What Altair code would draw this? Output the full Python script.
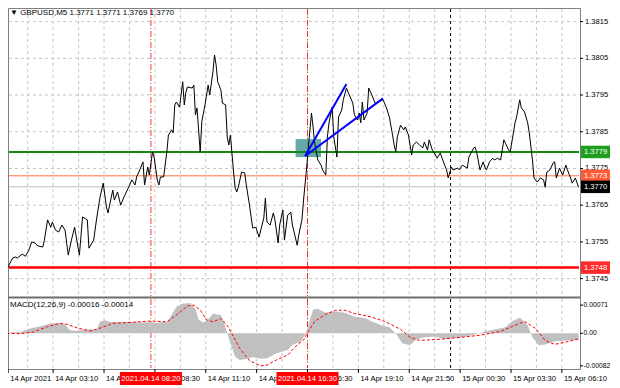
import altair as alt
import pandas as pd

# ---------------- data ----------------
bars = [0,1,3,6,8,9,12,14,16,18,20,22,25,26,28,30,31,33,35,37,39,41,43,45,48,50,53,54,57,59,61,63,65,66,69,70,72,74,76,79,81,83,84,86,88,89,91,92,94,95,97,98,99,101,103,104,106,107,108,109,111,113,114,115,116,119,120,121,122,124,125,127,129,130,132,133,134,135,137,138,140,141,142,143,145,146,147,148,150,152,153,155,157,159,161,164,165,166,168,170,171,173,174,176,177,179,181,182,185,186,188,189,191,192,194,195,196,198,200,201,203,204,205,207,208,210,211,213,214,216,217,220,221,223,224,225,226,227,229,230,232,234,236,239,241,243,245,246,247,248,250,252,253,255,257,258,260,262,264,265,267,268,270,271,273,275,277,279,280,282,283,286,287,289,292,293,296,297,298,300,302,303,304,306,308,309,311,313,315,316,318,319,321,322,323,325,326,328,330,331,333,334,336,338,340,341,342,344,346,347,348,350,352,354,355,357,358,360,362]
prices = [1.37487,1.37492,1.37481,1.37506,1.37509,1.37506,1.37517,1.37511,1.37525,1.37550,1.37547,1.37539,1.37536,1.37555,1.37610,1.37590,1.37604,1.37582,1.37577,1.37596,1.37582,1.37514,1.37555,1.37590,1.37514,1.37618,1.37610,1.37533,1.37555,1.37618,1.37672,1.37710,1.37645,1.37629,1.37691,1.37664,1.37686,1.37650,1.37672,1.37699,1.37719,1.37705,1.37727,1.37746,1.37768,1.37705,1.37754,1.37732,1.37795,1.37781,1.37719,1.37705,1.37727,1.37727,1.37795,1.37841,1.37855,1.37847,1.37923,1.37931,1.37917,1.37986,1.37923,1.37958,1.37972,1.37969,1.37977,1.37896,1.37915,1.37795,1.37877,1.37923,1.37977,1.37950,1.38013,1.38059,1.38032,1.37986,1.37964,1.37928,1.37923,1.37836,1.37814,1.37841,1.37740,1.37697,1.37686,1.37699,1.37740,1.37738,1.37705,1.37650,1.37588,1.37590,1.37563,1.37615,1.37669,1.37604,1.37596,1.37629,1.37610,1.37547,1.37596,1.37637,1.37555,1.37623,1.37631,1.37596,1.37541,1.37569,1.37610,1.37664,1.37754,1.37806,1.37901,1.37863,1.37819,1.37773,1.37759,1.37746,1.37732,1.37836,1.37874,1.37917,1.37836,1.37781,1.37890,1.37909,1.37937,1.37969,1.37958,1.37928,1.37896,1.37882,1.37901,1.37874,1.37931,1.37882,1.37901,1.37969,1.37950,1.37928,1.37931,1.37937,1.37917,1.37890,1.37841,1.37814,1.37795,1.37836,1.37868,1.37855,1.37863,1.37841,1.37787,1.37814,1.37822,1.37814,1.37806,1.37822,1.37800,1.37828,1.37800,1.37795,1.37778,1.37792,1.37768,1.37746,1.37724,1.37754,1.37746,1.37751,1.37746,1.37759,1.37751,1.37781,1.37806,1.37808,1.37792,1.37746,1.37768,1.37754,1.37746,1.37768,1.37778,1.37773,1.37778,1.37773,1.37828,1.37819,1.37800,1.37795,1.37847,1.37874,1.37890,1.37937,1.37915,1.37904,1.37874,1.37847,1.37773,1.37724,1.37713,1.37724,1.37719,1.37699,1.37740,1.37746,1.37765,1.37768,1.37724,1.37751,1.37732,1.37759,1.37746,1.37724,1.37710,1.37724,1.37699]

hist_bars = [0,4,11,17,23,30,36,39,42,47,50,55,59,61,64,67,74,80,86,93,97,101,103,105,109,113,118,121,123,126,129,132,137,139,141,143,146,149,154,157,162,166,172,179,182,187,190,192,195,198,203,209,215,221,228,232,238,243,247,251,256,260,265,272,278,284,291,297,303,310,316,320,325,330,333,337,341,347,354,362]
hist_vals = [0.00002,0.00002,0.00003,0.00012,0.00017,0.00025,0.00026,0.00022,0.00008,0.00006,0.00009,0.00010,0.00009,0.00030,0.00033,0.00029,0.00028,0.00029,0.00027,0.00028,0.00026,0.00029,0.00027,0.00040,0.00067,0.00075,0.00076,0.00062,0.00035,0.00027,0.00035,0.00049,0.00046,0.00027,0.00000,-0.00025,-0.00059,-0.00067,-0.00064,-0.00060,-0.00064,-0.00063,-0.00050,-0.00042,-0.00029,-0.00021,-0.00004,0.00020,0.00060,0.00062,0.00052,0.00055,0.00052,0.00042,0.00038,0.00030,0.00020,0.00015,0.00000,-0.00025,-0.00030,-0.00015,-0.00010,-0.00008,-0.00015,-0.00012,-0.00008,-0.00003,0.00005,0.00010,0.00015,0.00030,0.00040,0.00020,-0.00010,-0.00030,-0.00028,-0.00020,-0.00018,-0.00016]

sig_bars = [0,3,11,19,28,36,40,47,55,61,69,82,93,103,109,116,120,124,128,132,137,141,145,149,155,162,166,172,179,185,189,192,196,203,209,215,221,231,240,250,256,262,275,288,300,313,322,328,335,341,347,354,362]
sig_vals = [0.00010,0.00000,-0.00001,0.00003,0.00017,0.00025,0.00023,0.00013,0.00006,0.00013,0.00025,0.00028,0.00031,0.00029,0.00046,0.00069,0.00071,0.00059,0.00034,0.00029,0.00037,0.00020,-0.00009,-0.00039,-0.00069,-0.00082,-0.00080,-0.00067,-0.00055,-0.00029,-0.00017,0.00004,0.00030,0.00048,0.00058,0.00058,0.00050,0.00042,0.00030,0.00010,-0.00010,-0.00018,-0.00015,-0.00010,-0.00005,0.00005,0.00020,0.00030,0.00012,-0.00018,-0.00028,-0.00022,-0.00014]

price_ticks = [1.3745, 1.3755, 1.3765, 1.3775, 1.3785, 1.3795, 1.3805, 1.3815]
macd_ticks = [0.00071, 0.0, -0.00082]
macd_tick_labels = ["0.00071", "0.00", "-0.00082"]

grid_bars = [15.5,31.5,47.5,63.5,79.5,95.5,111.5,127.5,143.5,159.5,175.5,191.5,207.5,223.5,239.5,255.5,271.5,287.5,303.5,319.5,335.5,351.5]
tick_bars = [3.2,31.5,63.5,95.5,127.5,159.5,191.5,223.5,255.5,287.5,319.5,351.5]
tick_labels = ["14 Apr 2021","14 Apr 03:10","14 Apr 05:50","14 Apr 08:30","14 Apr 11:10","14 Apr 13:50",
               "14 Apr 16:30","14 Apr 19:10","14 Apr 21:50","15 Apr 00:30","15 Apr 03:30","15 Apr 06:10"]

day_separator = [281.5]
event_bars = [93, 191.5]
event_labels = ["2021.04.14 08:20", "2021.04.14 16:30"]

level_prices = [1.37795, 1.3773, 1.3770, 1.3748]
level_labels = ["1.3779", "1.3773", "1.3770", "1.3748"]

zone = {"b0": [184], "b1": [200], "p0": [1.37781], "p1": [1.37830]}
trend = {"b0": [190, 190], "p0": [1.37784, 1.37784], "b1": [216, 239], "p1": [1.37980, 1.37941]}

title_main = "\u25bc GBPUSD,M5  1.3771 1.3771 1.3769 1.3770"
title_macd = "MACD(12,26,9) -0.00016 -0.00014"

# ---------------- layout / styles ----------------
W = 572          # plot width (bars keep the reference spacing)
H = 361          # both panels together
H_MAIN = 289
M_TOP = 290
FONT = "Liberation Sans"
FS = 7.6
GRID = "#c4c4c4"

xscale = alt.Scale(domain=[3.1, 362.9], nice=False, zero=False)
pscale = alt.Scale(domain=[1.37400, 1.38187], range=[H_MAIN, 0], nice=False, zero=False)
mscale = alt.Scale(domain=[-0.00090, 0.00089], range=[H, M_TOP], nice=False, zero=False)

price_df = pd.DataFrame({"bar": bars, "price": prices})
hist_df = pd.DataFrame({"bar": hist_bars, "val": hist_vals})
sig_df = pd.DataFrame({"bar": sig_bars, "val": sig_vals})
grid_df = pd.DataFrame({"bar": grid_bars})
sep_df = pd.DataFrame({"bar": day_separator})
event_df = pd.DataFrame({"bar": event_bars, "label": event_labels})
ptick_df = pd.DataFrame({"price": price_ticks})
mtick_df = pd.DataFrame({"val": macd_ticks, "label": macd_tick_labels})
ttick_df = pd.DataFrame({"bar": tick_bars, "label": tick_labels})


def X(field="bar:Q"):
    return alt.X(field, scale=xscale, axis=None)


def Yp(field="price:Q"):
    return alt.Y(field, scale=pscale, axis=None)


def Ym(field="val:Q"):
    return alt.Y(field, scale=mscale, axis=None)


def verticals(y0, y1):
    grid = alt.Chart(grid_df).mark_rule(color=GRID, strokeDash=[3, 3], strokeWidth=1).encode(
        x=X(), y=alt.value(y0), y2=alt.value(y1))
    sep = alt.Chart(sep_df).mark_rule(color="#000000", strokeDash=[3, 3], strokeWidth=1).encode(
        x=X(), y=alt.value(y0), y2=alt.value(y1))
    ev = alt.Chart(event_df).mark_rule(color="#ff0000", strokeDash=[6, 2, 1, 2], strokeWidth=1, opacity=0.8).encode(
        x=X(), y=alt.value(y0), y2=alt.value(y1))
    return [grid, sep, ev]


layers = []

# ---------- main panel ----------
layers.append(
    alt.Chart(ptick_df).mark_rule(color=GRID, strokeDash=[3, 3], strokeWidth=1).encode(
        y=Yp(), x=alt.value(1), x2=alt.value(W - 1))
)
layers.extend(verticals(1, H_MAIN - 1))

layers.append(
    alt.Chart(pd.DataFrame(zone)).mark_rect(color="#4a9a9a", opacity=0.85).encode(
        x=X("b0:Q"), x2="b1:Q", y=Yp("p0:Q"), y2="p1:Q")
)

level_styles = [("#138a13", 2, "#1e9e1e"), ("#ff7043", 1, "#ff5a36"),
                ("#bdbdbd", 1, "#000000"), ("#ff0000", 2.5, "#ff2a2a")]
box_layers = []
for i, (lc, lw, bc) in enumerate(level_styles):
    df = pd.DataFrame({"price": [level_prices[i]], "label": [level_labels[i]]})
    layers.append(
        alt.Chart(df).mark_rule(color=lc, strokeWidth=lw).encode(
            y=Yp(), x=alt.value(1), x2=alt.value(W - 1))
    )
    box_layers.append(
        alt.Chart(df).transform_calculate(lo="datum.price - 0.00017", hi="datum.price + 0.00017")
        .mark_rect(color=bc).encode(
            x=alt.value(W + 1), x2=alt.value(W + 30), y=Yp("lo:Q"), y2="hi:Q")
    )
    box_layers.append(
        alt.Chart(df).mark_text(align="left", baseline="middle", color="white", fontSize=FS, font=FONT).encode(
            x=alt.value(W + 4), y=Yp(), text="label:N")
    )

layers.append(
    alt.Chart(price_df).mark_line(color="#000000", strokeWidth=1, clip=True).encode(x=X(), y=Yp())
)
layers.append(
    alt.Chart(pd.DataFrame(trend)).mark_rule(color="#0000ff", strokeWidth=2).encode(
        x=X("b0:Q"), x2="b1:Q", y=Yp("p0:Q"), y2="p1:Q")
)
layers.append(
    alt.Chart(pd.DataFrame({"t": [title_main]})).mark_text(
        align="left", baseline="middle", fontSize=8, font=FONT, color="#000000").encode(
        x=alt.value(2), y=alt.value(5), text="t:N")
)
# price scale ticks and labels
layers.append(
    alt.Chart(ptick_df).mark_rule(color="#000000", strokeWidth=1).encode(
        y=Yp(), x=alt.value(W), x2=alt.value(W + 3))
)
layers.append(
    alt.Chart(ptick_df).mark_text(align="left", baseline="middle", fontSize=FS, font=FONT, color="#000000").encode(
        y=Yp(), x=alt.value(W + 5), text=alt.Text("price:Q", format=".4f"))
)
layers.extend(box_layers)

# ---------- MACD panel ----------
layers.extend(verticals(M_TOP + 1, H - 1))
layers.append(
    alt.Chart(hist_df).mark_area(color="#c0c0c0", clip=True).encode(x=X(), y=Ym(), y2=alt.datum(0))
)
layers.append(
    alt.Chart(sig_df).mark_line(color="#ff0000", strokeDash=[3, 2], strokeWidth=1, clip=True).encode(x=X(), y=Ym())
)
layers.append(
    alt.Chart(pd.DataFrame({"t": [title_macd]})).mark_text(
        align="left", baseline="middle", fontSize=8, font=FONT, color="#000000").encode(
        x=alt.value(2), y=alt.value(M_TOP + 7), text="t:N")
)
layers.append(
    alt.Chart(pd.DataFrame({"t": [0]})).mark_rect(color="#6e6e6e").encode(
        x=alt.value(0), x2=alt.value(W), y=alt.value(H_MAIN - 0.5), y2=alt.value(M_TOP + 0.5))
)
layers.append(
    alt.Chart(mtick_df).mark_rule(color="#000000", strokeWidth=1).encode(
        y=Ym(), x=alt.value(W), x2=alt.value(W + 3))
)
layers.append(
    alt.Chart(mtick_df).mark_text(align="left", baseline="middle", fontSize=6.8, font=FONT, color="#000000").encode(
        y=Ym(), x=alt.value(W + 3.5), text="label:N")
)
# time scale
layers.append(
    alt.Chart(ttick_df).mark_rule(color="#000000", strokeWidth=1).encode(
        x=X(), y=alt.value(H), y2=alt.value(H + 4))
)
layers.append(
    alt.Chart(ttick_df).mark_text(align="left", baseline="middle", dx=2, fontSize=FS, font=FONT, color="#000000").encode(
        x=X(), y=alt.value(H + 9.5), text="label:N")
)
layers.append(
    alt.Chart(event_df).transform_calculate(lo="datum.bar - 19.5", hi="datum.bar + 19.5")
    .mark_rect(color="#ff0000").encode(
        x=X("lo:Q"), x2="hi:Q", y=alt.value(H + 3), y2=alt.value(H + 16))
)
layers.append(
    alt.Chart(event_df).mark_text(align="center", baseline="middle", color="white", fontSize=FS, font=FONT).encode(
        x=X(), y=alt.value(H + 9.5), text="label:N")
)

chart = alt.layer(*layers).resolve_scale(y="independent").properties(
    width=W, height=H,
    autosize=alt.AutoSizeParams(type="none"),
    padding={"left": 0, "top": 0, "right": 32, "bottom": 19},
    background="white",
).configure_view(stroke="#808080", strokeWidth=1)

chart.save("out.html", embed_options={"renderer": "svg", "actions": False})
